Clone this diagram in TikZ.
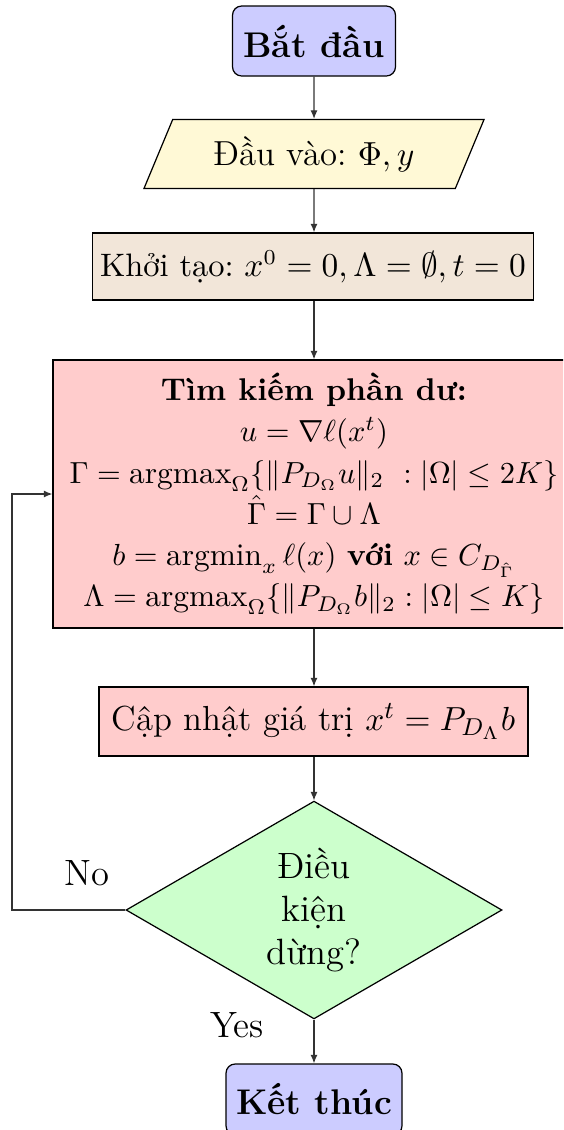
\documentclass[tikz,border=0pt]{standalone}
\usepackage{fontspec}
\usepackage{amsmath,amssymb}
\usetikzlibrary{shapes.geometric,arrows.meta}
\frenchspacing
\newcommand\pxu{0.3279pt}
\definecolor{ioc}{RGB}{255,249,214}
\definecolor{initc}{RGB}{242,230,217}
\tikzset{
  base/.style={draw=black, inner sep=0pt, align=center},
  startstop/.style={base, rectangle, rounded corners=3pt, fill=blue!20, font=\fontsize{11.7}{14}\selectfont\bfseries},
  io/.style={base, trapezium, trapezium left angle=60, trapezium right angle=120, fill=ioc, trapezium stretches=true},
  proc/.style={base, rectangle},
  decision/.style={base, diamond, fill=green!20, font=\large},
  arr/.style={draw=black!80, -{Latex[length=2.8pt,width=2.3pt]}},
  lbl/.style={font=\large, inner sep=0pt}
}
\begin{document}
\begin{tikzpicture}[x=0.3279pt,y=-0.3279pt]
\useasboundingbox (0,0) rectangle (563,1130);
\clip (0,0) rectangle (563,1130);
\node[startstop, minimum width=163*\pxu, minimum height=70*\pxu] (start) at (314,41) {Bắt đầu};
\node[io, font=\fontsize{11.4}{14}\selectfont, minimum width=341*\pxu, minimum height=69*\pxu] (input) at (314,154) {Đầu vào: $\Phi, y$};
\node[proc, fill=initc, font=\fontsize{10.65}{13}\selectfont, minimum width=441*\pxu, minimum height=67*\pxu] (init) at (313,266.5) {Khởi tạo: $x^0=0,\Lambda=\emptyset,t=0$};
\node[proc, fill=red!20, font=\fontsize{10.3}{13.5}\selectfont, minimum width=522*\pxu, minimum height=268*\pxu] (search) at (314,494)
  {\textbf{Tìm kiếm phần dư:}\\
   $u=\nabla\ell(x^t)$\\
   $\Gamma=\mathrm{argmax}_{\Omega}\{\|P_{D_\Omega}u\|_2\ :|\Omega|\le 2K\}$\\
   $\hat\Gamma=\Gamma\cup\Lambda$\\
   $b=\mathrm{argmin}_x\,\ell(x)$ \textbf{với} $x\in C_{D_{\hat\Gamma}}$\\
   $\Lambda=\mathrm{argmax}_{\Omega}\{\|P_{D_\Omega}b\|_2:|\Omega|\le K\}$};
\node[proc, fill=red!20, font=\fontsize{11.4}{14}\selectfont, minimum width=429*\pxu, minimum height=69*\pxu] (update) at (313.5,721.5) {Cập nhật giá trị $x^t=P_{D_\Lambda}b$};
\node[decision, minimum width=376*\pxu, minimum height=186*\pxu] (cond) at (314,910) {Điều\\kiện\\dừng?};
\node[startstop, minimum width=176*\pxu, minimum height=71*\pxu] (stop) at (314,1099.5) {Kết thúc};
\node[lbl] (no) at (87,873) {No};
\node[lbl] (yes) at (237,1025) {Yes};
\coordinate (fb) at (12,910);
\draw[arr] (start) -- (input);
\draw[arr] (input) -- (input |- init.north);
\draw[arr] (init.south -| search) -- (search);
\draw[arr] (search) -- (search |- update.north);
\draw[arr] (update.south -| cond) -- (cond);
\draw[arr] (cond) -- (stop);
\draw[arr] (cond.west) -- (fb) |- (search.west);
\end{tikzpicture}
\end{document}
